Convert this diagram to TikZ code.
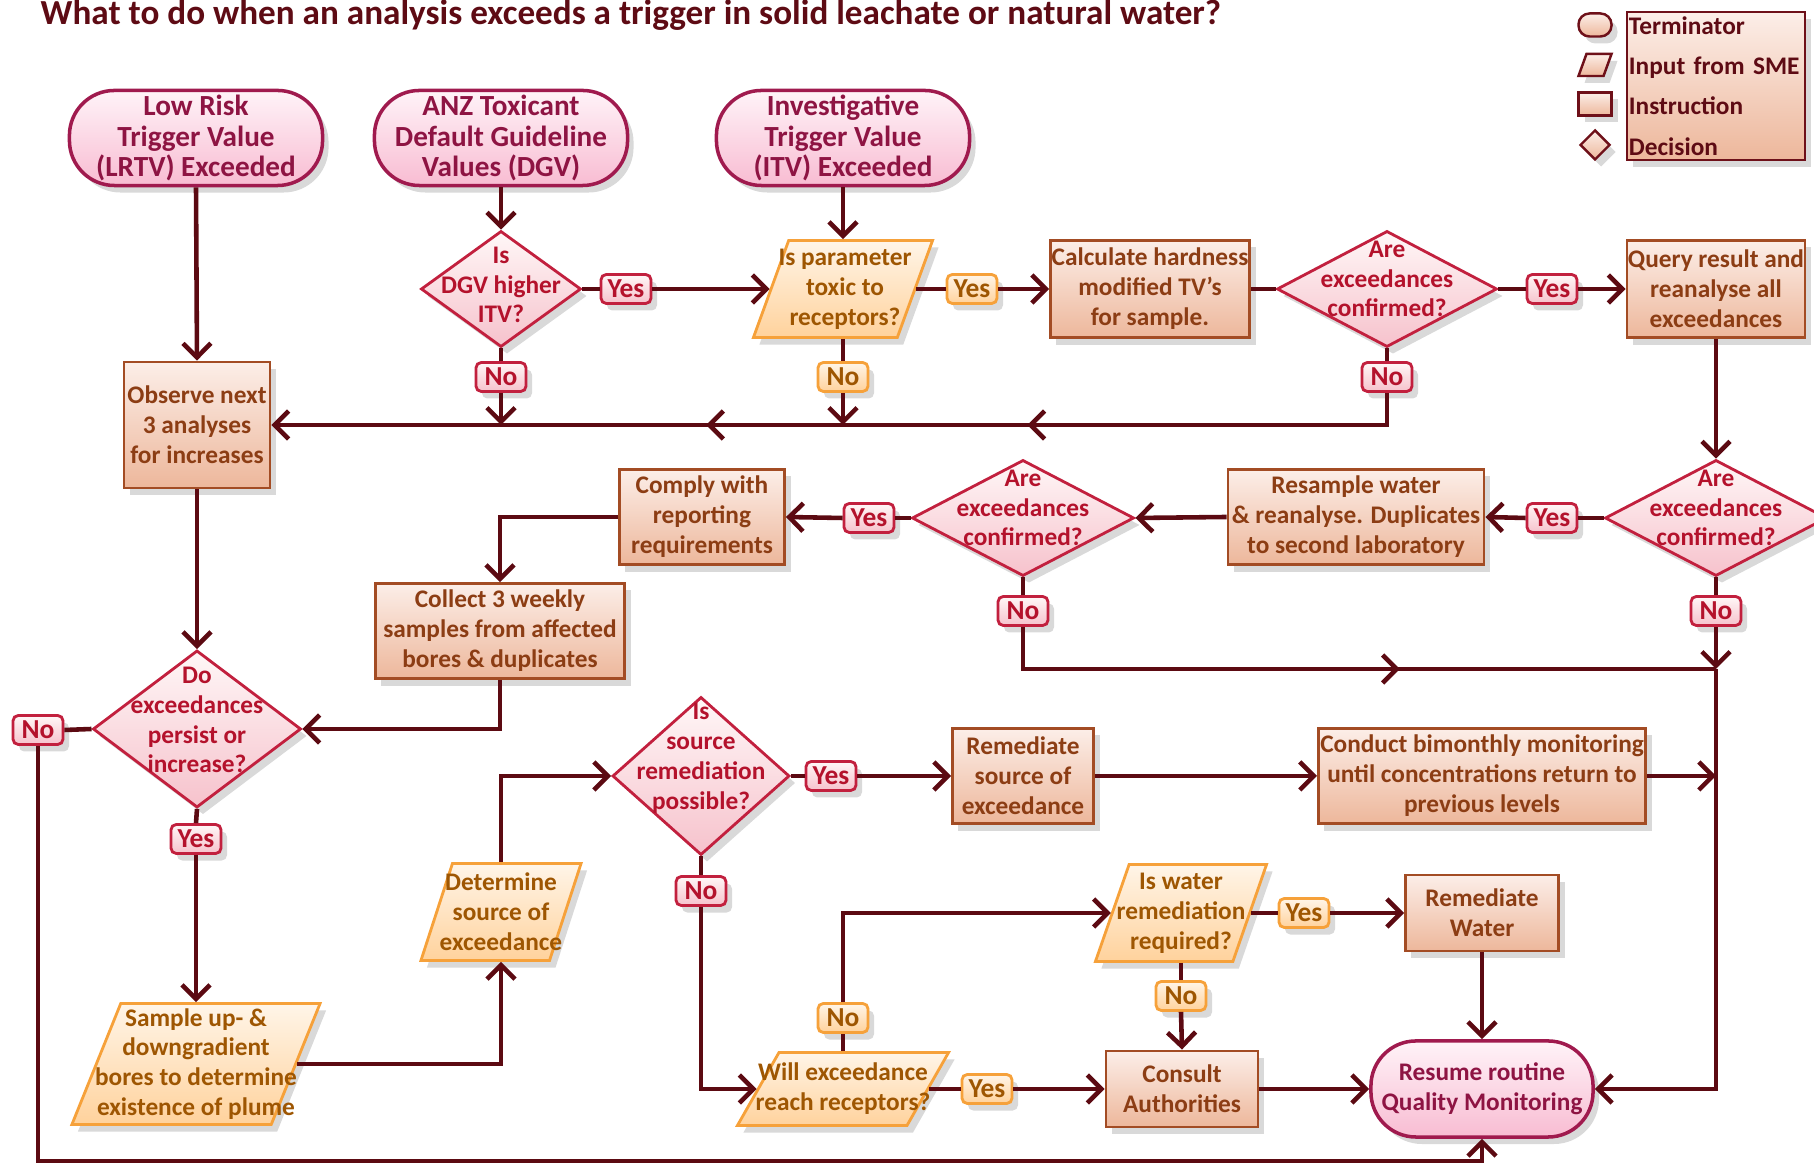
\documentclass[tikz,border=0pt]{standalone}
\usepackage{fontspec}
\setmainfont{Carlito}
\usetikzlibrary{positioning,shapes.geometric,arrows.meta,decorations.markings,shadows}
\definecolor{linec}{HTML}{5C0A12}
\definecolor{titlec}{HTML}{5E0B14}
\definecolor{termline}{HTML}{A01A4E}
\definecolor{termtop}{HTML}{FFF3F8}
\definecolor{termbot}{HTML}{F8BCD2}
\definecolor{termtext}{HTML}{8E1443}
\definecolor{decline}{HTML}{C2203E}
\definecolor{dectop}{HTML}{FFF7F7}
\definecolor{decbot}{HTML}{F6C2CC}
\definecolor{dectext}{HTML}{B4122C}
\definecolor{procline}{HTML}{A34C24}
\definecolor{proctop}{HTML}{FCEEE8}
\definecolor{procbot}{HTML}{EDB79B}
\definecolor{proctext}{HTML}{8C3D14}
\definecolor{inpline}{HTML}{F6A13A}
\definecolor{inptop}{HTML}{FFF5E8}
\definecolor{inpbot}{HTML}{FFD29C}
\definecolor{inptext}{HTML}{9E5602}
\definecolor{keyline}{HTML}{6E1019}

\begin{document}
\begin{tikzpicture}[x=0.01cm, y=-0.01cm, >={Straight Barb[length=1.4mm,width=2.8mm]},
	every node/.style={font=\bfseries\fontsize{7.2}{8.5}\selectfont},
	conn/.style={draw=linec, line width=1.3pt},
	midarrow/.style={postaction={decorate}, decoration={markings, mark=at position #1 with {\arrow{>}}}},
	shadowed/.style={drop shadow={opacity=0.3, shadow xshift=0.6mm, shadow yshift=-0.7mm}},
	term/.style={rectangle, rounded corners=0.45cm, draw=termline, line width=1pt, top color=termtop, bottom color=termbot, text=termtext, align=center, minimum width=2.53cm, minimum height=0.95cm, inner sep=0pt, shadowed, font=\bfseries\fontsize{8.3}{8.6}\selectfont},
	decision/.style={diamond, draw=decline, line width=0.8pt, top color=dectop, bottom color=decbot, inner sep=0.5pt, shadowed},
	dtext/.style={text=dectext, align=center, inner sep=0pt},
	instr/.style={rectangle, draw=procline, line width=0.8pt, top color=proctop, bottom color=procbot, text=proctext, align=center, inner sep=0pt, minimum height=0.95cm, shadowed},
	inp/.style={trapezium, trapezium left angle=72, trapezium right angle=108, trapezium stretches=true, draw=inpline, line width=0.8pt, top color=inptop, bottom color=inpbot, inner sep=0.5pt, minimum height=0.97cm, shadowed},
	itext/.style={text=inptext, align=center, inner sep=0pt},
	yesno/.style={rectangle, rounded corners=1.5pt, draw=decline, line width=0.8pt, top color=dectop, bottom color=decbot, text=dectext, minimum width=0.5cm, minimum height=0.29cm, inner sep=1.5pt, shadowed, font=\bfseries\fontsize{7.8}{8}\selectfont},
	oyesno/.style={yesno, draw=inpline, top color=inptop, bottom color=inpbot, text=inptext},
	keyshape/.style={draw=keyline, line width=0.7pt, top color=proctop, bottom color=procbot, inner sep=0.5pt, shadowed}]

	\useasboundingbox (0,0) rectangle (1814,1165);

	\node[anchor=base west, text=titlec, inner sep=0pt, font=\bfseries\fontsize{10}{11}\selectfont] (title) at (40,25) {What to do when an analysis exceeds a trigger in solid leachate or natural water?};

	\node[term] (lrtv) at (196,138) {Low Risk\\Trigger Value\\(LRTV) Exceeded};
	\node[term] (dgv) at (501,138) {ANZ Toxicant\\Default Guideline\\Values (DGV)};
	\node[term] (itv) at (843,138) {Investigative\\Trigger Value\\(ITV) Exceeded};
	\node[term, minimum width=2.22cm, minimum height=0.96cm, font=\bfseries\fontsize{7.2}{8.6}\selectfont] (resume) at (1482,1089) {Resume routine\\Quality Monitoring};

	\node[decision, minimum width=1.60cm, minimum height=1.16cm] (dgvq) at (501,289) {};
	\node[dtext] (dgvq-t) at ([yshift=0.04cm]dgvq) {Is\\DGV higher\\ITV?};
	\node[inp, minimum width=1.79cm] (param) at (843,289) {};
	\node[itext] (param-t) at ([xshift=0.02cm]param) {Is parameter\\toxic to\\receptors?};
	\node[instr, minimum width=1.99cm, minimum height=0.97cm] (calc) at (1150,289) {Calculate hardness\\modified TV’s\\for sample.};
	\node[decision, minimum width=2.20cm, minimum height=1.16cm] (conf1) at (1387,289) {};
	\node[dtext] (conf1-t) at ([yshift=0.1cm]conf1) {Are\\exceedances\\confirmed?};
	\node[instr, minimum width=1.78cm, minimum height=0.97cm] (query) at (1716,289) {Query result and\\reanalyse all\\exceedances};

	\node[instr, minimum width=1.46cm, minimum height=1.26cm] (observe) at (197,425) {Observe next\\3 analyses\\for increases};

	\node[decision, minimum width=2.22cm, minimum height=1.16cm] (conf2) at (1716,518) {};
	\node[dtext] (conf2-t) at ([yshift=0.1cm]conf2) {Are\\exceedances\\confirmed?};
	\node[instr, minimum width=2.56cm] (resample) at (1356,517) {Resample water\\\& reanalyse. Duplicates\\to second laboratory};
	\node[decision, minimum width=2.22cm, minimum height=1.16cm] (conf3) at (1023,518) {};
	\node[dtext] (conf3-t) at ([yshift=0.1cm]conf3) {Are\\exceedances\\confirmed?};
	\node[instr, minimum width=1.65cm] (comply) at (702,517) {Comply with\\reporting\\requirements};
	\node[instr, minimum width=2.49cm] (collect) at (500,631) {Collect 3 weekly\\samples from affected\\bores \& duplicates};

	\node[decision, minimum width=2.08cm, minimum height=1.57cm] (persist) at (197,729) {};
	\node[dtext] (persist-t) at ([yshift=0.09cm]persist) {Do\\exceedances\\persist or\\increase?};
	\node[decision, minimum width=1.77cm, minimum height=1.58cm] (source) at (701,776) {};
	\node[dtext] (source-t) at ([yshift=0.18cm]source) {Is\\source\\remediation\\possible?};
	\node[instr, minimum width=1.41cm] (remsrc) at (1023,776) {Remediate\\source of\\exceedance};
	\node[instr, minimum width=3.27cm] (conduct) at (1482,776) {Conduct bimonthly monitoring\\until concentrations return to\\previous levels};

	\node[inp, minimum width=1.60cm] (determine) at (501,912) {};
	\node[itext] (determine-t) at (determine) {Determine\\source of\\exceedance};
	\node[inp, minimum width=1.71cm] (waterq) at (1181,913) {};
	\node[itext] (waterq-t) at (waterq) {Is water\\remediation\\required?};
	\node[instr, minimum width=1.53cm, minimum height=0.76cm] (remwater) at (1482,913) {Remediate\\Water};
	\node[inp, minimum width=2.48cm, minimum height=1.21cm] (sample) at (196,1064) {};
	\node[itext] (sample-t) at (sample) {Sample up- \&\\downgradient\\bores to determine\\existence of plume};
	\node[inp, minimum width=2.11cm, minimum height=0.73cm] (will) at (843,1089) {};
	\node[itext] (will-t) at (will) {Will exceedance\\reach receptors?};
	\node[instr, minimum width=1.52cm, minimum height=0.76cm] (consult) at (1182,1089) {Consult\\Authorities};

	\node[yesno] (y1) at (626,289) {Yes};
	\node[yesno] (n1) at (501,377) {No};
	\node[oyesno] (y2) at (972,289) {Yes};
	\node[oyesno] (n2) at (843,377) {No};
	\node[yesno] (y3) at (1552,289) {Yes};
	\node[yesno] (n3) at (1387,377) {No};
	\node[yesno] (y4) at (1552,518) {Yes};
	\node[yesno] (n4) at (1716,611) {No};
	\node[yesno] (y5) at (869,518) {Yes};
	\node[yesno] (n5) at (1023,611) {No};
	\node[yesno] (n6) at (38,730) {No};
	\node[yesno] (y6) at (196,839) {Yes};
	\node[yesno] (y7) at (831,776) {Yes};
	\node[yesno] (n7) at (701,891) {No};
	\node[oyesno] (y8) at (1304,913) {Yes};
	\node[oyesno] (n8) at (1181,996) {No};
	\node[oyesno] (n9) at (843,1018) {No};
	\node[oyesno] (y9) at (987,1089) {Yes};

	\coordinate (j1) at (501,425);
	\coordinate (j2) at (843,425);
	\coordinate (j4) at (1716,669);
	\coordinate (j5) at (1716,776);
	\coordinate (jb) at (38,1161);

	\draw[conn,->] (lrtv.south) -- (observe.north);
	\draw[conn,->] (dgv.south) -- (dgvq.north);
	\draw[conn,->] (itv.south) -- (param.north);
	\draw[conn] (dgvq.east) -- (y1.west);
	\draw[conn,->] (y1.east) -- (param.west);
	\draw[conn] (param.east) -- (y2.west);
	\draw[conn,->] (y2.east) -- (calc.west);
	\draw[conn] (calc.east) -- (conf1.west);
	\draw[conn] (conf1.east) -- (y3.west);
	\draw[conn,->] (y3.east) -- (query.west);
	\draw[conn] (conf1.south) -- (n3.north);
	\draw[conn, midarrow=0.68] (n3.south) |- (j2);
	\draw[conn] (param.south) -- (n2.north);
	\draw[conn,->] (n2.south) -- (j2);
	\draw[conn, midarrow=0.4] (j2) -- (j1);
	\draw[conn] (dgvq.south) -- (n1.north);
	\draw[conn,->] (n1.south) -- (j1);
	\draw[conn,->] (j1) -- (observe.east);

	\draw[conn,->] (query.south) -- (conf2.north);
	\draw[conn] (conf2.west) -- (y4.east);
	\draw[conn,->] (y4.west) -- (resample.east);
	\draw[conn,->] (resample.west) -- (conf3.east);
	\draw[conn] (conf3.west) -- (y5.east);
	\draw[conn,->] (y5.west) -- (comply.east);
	\draw[conn,->] (comply.west) -| (collect.north);
	\draw[conn,->] (collect.south) |- (persist.east);
	\draw[conn,->] (observe.south) -- (persist.north);
	\draw[conn] (conf3.south) -- (n5.north);
	\draw[conn, midarrow=0.57] (n5.south) |- (j4);
	\draw[conn] (conf2.south) -- (n4.north);
	\draw[conn,->] (n4.south) -- (j4);
	\draw[conn,->] (j4) |- (resume.east);

	\draw[conn] (persist.west) -- (n6.east);
	\draw[conn,->] (n6.south) -- (jb) -| (resume.south);
	\draw[conn] (persist.south) -- (y6.north);
	\draw[conn,->] (y6.south) -- (sample.north);
	\draw[conn,->] (sample.east) -| (determine.south);
	\draw[conn,->] (determine.north) |- (source.west);
	\draw[conn] (source.east) -- (y7.west);
	\draw[conn,->] (y7.east) -- (remsrc.west);
	\draw[conn,->] (remsrc.east) -- (conduct.west);
	\draw[conn,->] (conduct.east) -- (j5);
	\draw[conn] (source.south) -- (n7.north);
	\draw[conn,->] (n7.south) |- (will.west);
	\draw[conn] (will.north) -- (n9.south);
	\draw[conn,->] (n9.north) |- (waterq.west);
	\draw[conn] (will.east) -- (y9.west);
	\draw[conn,->] (y9.east) -- (consult.west);
	\draw[conn] (waterq.east) -- (y8.west);
	\draw[conn,->] (y8.east) -- (remwater.west);
	\draw[conn] (waterq.south) -- (n8.north);
	\draw[conn,->] (n8.south) -- (consult.north);
	\draw[conn,->] (consult.east) -- (resume.west);
	\draw[conn,->] (remwater.south) -- (resume.north);

	\node[keyshape, rectangle, rounded corners=0.11cm, minimum width=0.33cm, minimum height=0.23cm] (keyterm) at (1595,25) {};
	\node[keyshape, trapezium, trapezium left angle=65, trapezium right angle=115, trapezium stretches=true, minimum width=0.33cm, minimum height=0.22cm] (keyinp) at (1595,65) {};
	\node[keyshape, rectangle, minimum width=0.33cm, minimum height=0.23cm] (keyinstr) at (1595,104) {};
	\node[keyshape, diamond, minimum width=0.30cm, minimum height=0.30cm] (keydec) at (1595,145) {};
	\node[keyshape, rectangle, text=titlec, align=left, text width=1.74cm, inner sep=0.2pt, minimum width=1.78cm, minimum height=1.48cm, font=\bfseries\fontsize{7.2}{11.5}\selectfont] (legend) at (1716,86) {Terminator\\Input from SME\\Instruction\\Decision};
\end{tikzpicture}
\end{document}
